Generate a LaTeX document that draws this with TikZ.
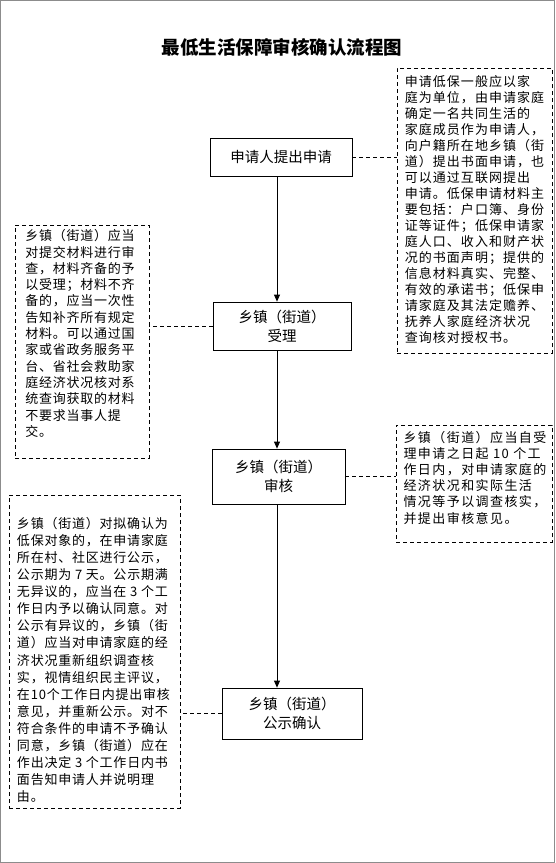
\documentclass[tikz,border=0pt]{standalone}
\usepackage{fontspec}
\setmainfont{Noto Sans CJK SC}
\newfontfamily\notefont[LetterSpace=6]{Noto Sans CJK SC}
\newfontfamily\midnotefont[LetterSpace=11]{Noto Sans CJK SC}
\newfontfamily\widenotefont[LetterSpace=8]{Noto Sans CJK SC}
\usetikzlibrary{arrows.meta,fit}

\begin{document}
\begin{tikzpicture}[x=1pt, y=-1pt,
  box/.style={draw, line width=0.8pt, align=center, inner sep=0pt, font=\fontsize{14.5}{19}\selectfont},
  memo/.style={align=left, inner sep=0pt, font=\notefont\fontsize{13}{16.3}\selectfont},
  memoframe/.style={draw, dash pattern=on 4pt off 3pt, line width=0.7pt, inner sep=0pt},
  link/.style={draw, dash pattern=on 4pt off 3pt, line width=0.7pt},
  flow/.style={-{Triangle[length=7pt,width=6pt]}, line width=0.8pt}]
  \useasboundingbox (0,0) rectangle (555,863);
  \draw[black!45] (0.5,0.5) rectangle (554.5,862.5);
  \node[font=\bfseries\fontsize{18.5}{22}\selectfont] (title) at (282,47) {最低生活保障审核确认流程图};
  % main steps
  \node[box, minimum width=142pt, minimum height=38pt] (apply) at (281,157) {申请人提出申请};
  \node[box, minimum width=138pt, minimum height=48pt] (accept) at (282,326) {乡镇（街道）\\受理};
  \node[box, minimum width=133pt, minimum height=55pt] (review) at (278.5,476.5) {乡镇（街道）\\审核};
  \node[box, minimum width=140pt, minimum height=51pt] (publish) at (292,713.5) {乡镇（街道）\\公示确认};
  \coordinate (axis) at (277,0);
  \draw[flow] (apply.south -| axis) -- (accept.north -| axis);
  \draw[flow] (accept.south -| axis) -- (review.north -| axis);
  \draw[flow] (review.south -| axis) -- (publish.north -| axis);
  % side notes
  \node[memo, font=\widenotefont\fontsize{13}{16}\selectfont] (applytxt) at (474.5,210)
    {申请低保一般应以家\\庭为单位，由申请家庭\\确定一名共同生活的\\家庭成员作为申请人，\\向户籍所在地乡镇（街\\道）提出书面申请，也\\可以通过互联网提出\\申请。低保申请材料主\\要包括：户口簿、身份\\证等证件；低保申请家\\庭人口、收入和财产状\\况的书面声明；提供的\\信息材料真实、完整、\\有效的承诺书；低保申\\请家庭及其法定赡养、\\抚养人家庭经济状况\\查询核对授权书。};
  \node[memoframe, fit={(397,68) (552,353)}] (applyfr) {};
  \node[memo] (accepttxt) at (80,333.5)
    {乡镇（街道）应当\\对提交材料进行审\\查，材料齐备的予\\以受理；材料不齐\\备的，应当一次性\\告知补齐所有规定\\材料。可以通过国\\家或省政务服务平\\台、省社会救助家\\庭经济状况核对系\\统查询获取的材料\\不要求当事人提\\交。};
  \node[memoframe, fit={(15,225) (149,458)}] (acceptfr) {};
  \node[memo, font=\midnotefont\fontsize{13}{16.2}\selectfont] (reviewtxt) at (475,477.5)
    {乡镇（街道）应当自受\\理申请之日起 10 个工\\作日内，对申请家庭的\\经济状况和实际生活\\情况等予以调查核实，\\并提出审核意见。};
  \node[memoframe, fit={(396,425) (552,542)}] (reviewfr) {};
  \node[memo, font=\notefont\fontsize{13}{17.1}\selectfont] (publishtxt) at (93.5,660)
    {乡镇（街道）对拟确认为\\低保对象的，在申请家庭\\所在村、社区进行公示，\\公示期为 7 天。公示期满\\无异议的，应当在 3 个工\\作日内予以确认同意。对\\公示有异议的，乡镇（街\\道）应当对申请家庭的经\\济状况重新组织调查核\\实，视情组织民主评议，\\在10个工作日内提出审核\\意见，并重新公示。对不\\符合条件的申请不予确认\\同意，乡镇（街道）应在\\作出决定 3 个工作日内书\\面告知申请人并说明理\\由。};
  \node[memoframe, fit={(9,495) (180,808)}] (publishfr) {};
  \draw[link] (apply.east) -- (apply.east -| applyfr.west);
  \draw[link] (accept.west) -- (accept.west -| acceptfr.east);
  \draw[link] (review.east) -- (review.east -| reviewfr.west);
  \draw[link] (publish.west) -- (publish.west -| publishfr.east);
\end{tikzpicture}
\end{document}
